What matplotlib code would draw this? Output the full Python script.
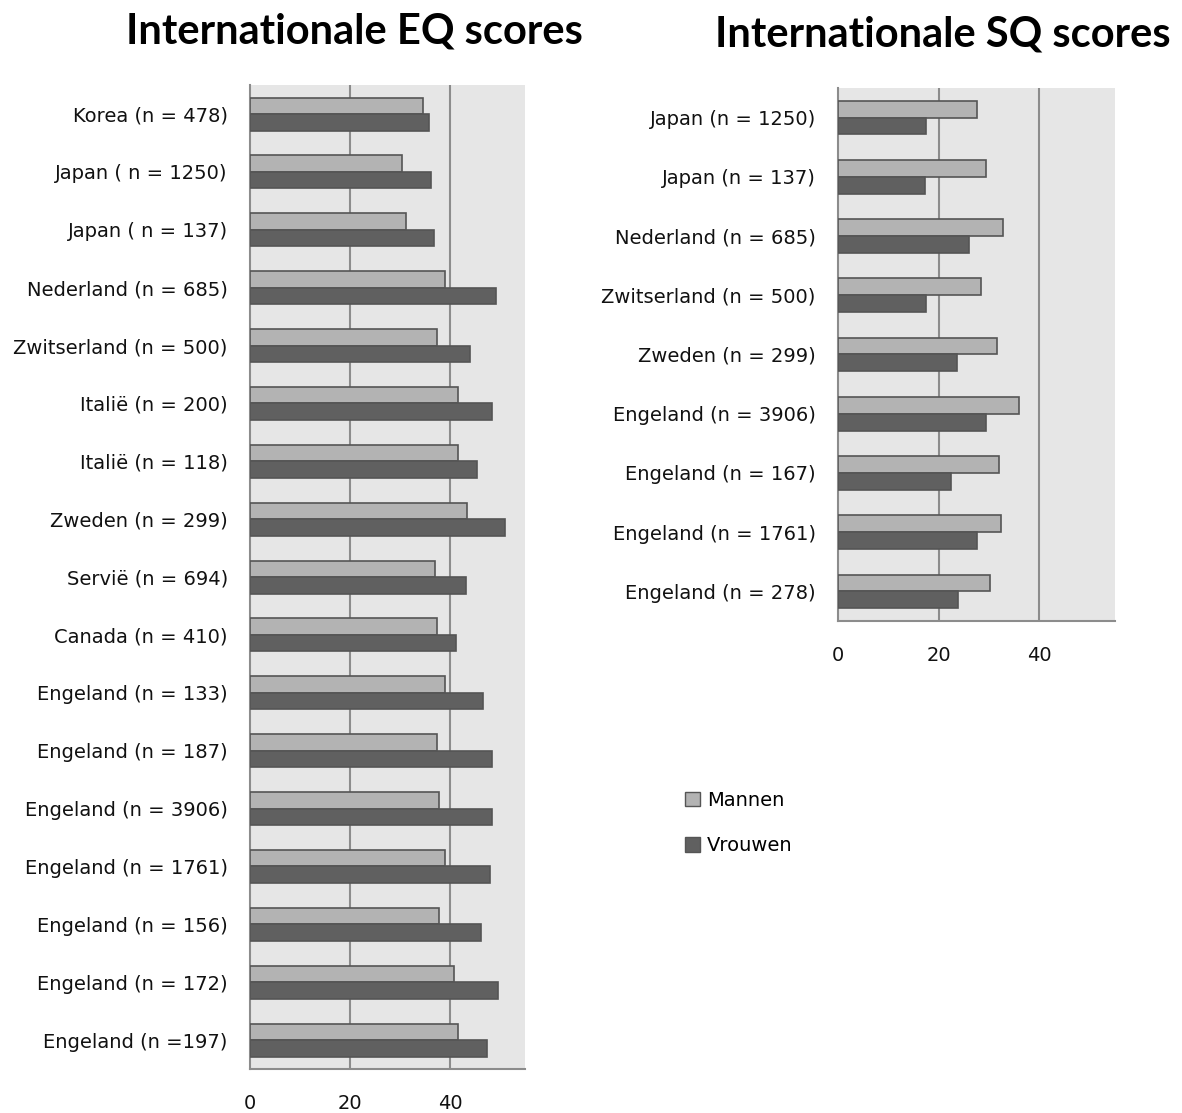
import numpy as np
import matplotlib.pyplot as plt
from matplotlib.patches import Patch

# EQ data (top to bottom as shown)
eq_labels = ["Korea (n = 478)", "Japan ( n = 1250)", "Japan ( n = 137)", "Nederland (n = 685)",
             "Zwitserland (n = 500)", "Italië (n = 200)", "Italië (n = 118)", "Zweden (n = 299)",
             "Servië (n = 694)", "Canada (n = 410)", "Engeland (n = 133)", "Engeland (n = 187)",
             "Engeland (n = 3906)", "Engeland (n = 1761)", "Engeland (n = 156)", "Engeland (n = 172)",
             "Engeland (n =197)"]
eq_mannen = [34.5, 30.4, 31.1, 39.0, 37.4, 41.6, 41.6, 43.4, 37.0, 37.4, 39.0, 37.4, 37.8, 39.0, 37.8, 40.8, 41.6]
eq_vrouwen = [35.7, 36.1, 36.8, 49.2, 44.0, 48.4, 45.4, 51.0, 43.2, 41.2, 46.6, 48.4, 48.4, 48.0, 46.2, 49.6, 47.3]

# SQ data
sq_labels = ["Japan (n = 1250)", "Japan (n = 137)", "Nederland (n = 685)", "Zwitserland (n = 500)",
             "Zweden (n = 299)", "Engeland (n = 3906)", "Engeland (n = 167)", "Engeland (n = 1761)",
             "Engeland (n = 278)"]
sq_mannen = [27.5, 29.3, 32.7, 28.3, 31.5, 36.0, 31.9, 32.3, 30.2]
sq_vrouwen = [17.5, 17.2, 26.0, 17.5, 23.7, 29.4, 22.4, 27.5, 23.9]

ticks = [0, 20, 40]

c_m = "#b3b3b3"
c_v = "#606060"
edge = "#555555"
grid_c = "#8c8c8c"


def draw(ax, labels, mannen, vrouwen):
    n = len(labels)
    y = np.arange(n)
    h = 0.285
    ax.barh(y - h / 2, mannen, height=h, color=c_m, edgecolor=edge, linewidth=1.2, zorder=3)
    ax.barh(y + h / 2, vrouwen, height=h, color=c_v, edgecolor=edge, linewidth=1.2, zorder=3)
    ax.set_ylim(n - 0.5, -0.5)
    ax.set_xlim(0, 55)
    ax.set_facecolor("#e6e6e6")
    ax.set_xticks(ticks)
    ax.set_yticks(y)
    ax.set_yticklabels(labels)
    for t in ticks[1:]:
        ax.axvline(t, color=grid_c, linewidth=1.5, zorder=2)
    for s in ["top", "right"]:
        ax.spines[s].set_visible(False)
    for s in ["left", "bottom"]:
        ax.spines[s].set_color(grid_c)
        ax.spines[s].set_linewidth(1.5)
    ax.tick_params(axis="both", length=0, labelsize=14, colors="#111111")
    ax.tick_params(axis="x", pad=18)
    ax.tick_params(axis="y", pad=16)


fig = plt.figure(figsize=(11.82, 11.13), dpi=100)

ax1 = fig.add_axes([0.2115, 0.0395, 0.2327, 0.884])
draw(ax1, eq_labels, eq_mannen, eq_vrouwen)

ax2 = fig.add_axes([0.709, 0.442, 0.2343, 0.479])
draw(ax2, sq_labels, sq_mannen, sq_vrouwen)

fig.text(0.300, 0.972, "Internationale EQ scores", ha="center", va="center",
         fontsize=30, fontweight="bold", family="Lato")
fig.text(0.798, 0.969, "Internationale SQ scores", ha="center", va="center",
         fontsize=30, fontweight="bold", family="Lato")

handles = [Patch(facecolor=c_m, edgecolor=edge, label="Mannen"),
           Patch(facecolor=c_v, edgecolor=edge, label="Vrouwen")]
fig.legend(handles=handles, loc="upper left", bbox_to_anchor=(0.565, 0.305), frameon=False,
           fontsize=14, handlelength=0.75, handleheight=0.75, handletextpad=0.35, labelspacing=1.35)

fig.savefig("out.png", dpi=100, facecolor="white")
